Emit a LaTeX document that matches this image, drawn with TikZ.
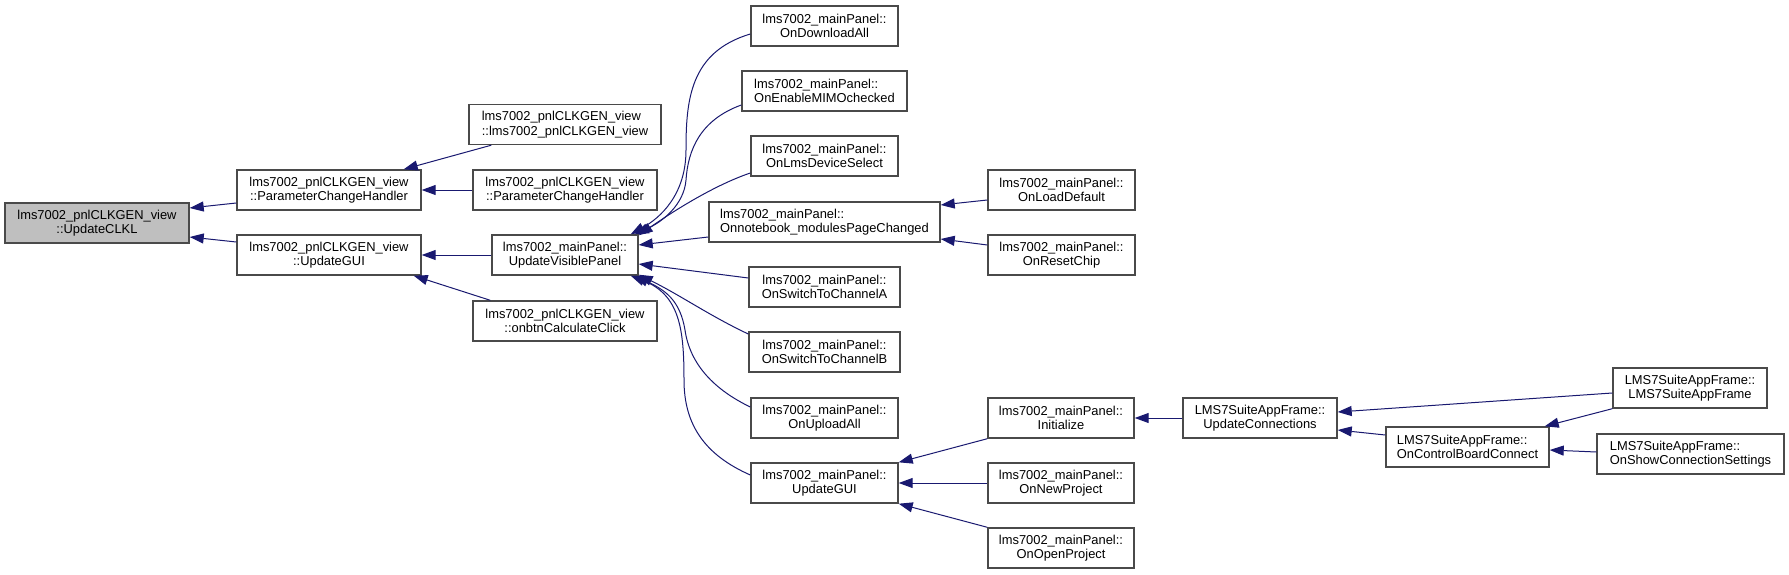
\documentclass[tikz,border=0pt]{standalone}
\usepackage{fontspec}
\setmainfont{Liberation Sans}
\usetikzlibrary{arrows.meta,calc}
\definecolor{edgec}{HTML}{191970}
\definecolor{boxc}{HTML}{4A4A4A}
\definecolor{fillc}{HTML}{BFBFBF}
\begin{document}
\begin{tikzpicture}[x=1pt,y=-1pt,
  box/.style={draw=boxc, line width=1.4pt, fill=white, inner sep=0pt, minimum height=40pt,
    font=\fontsize{12.9}{14.5}\selectfont, align=center},
  edge/.style={draw=edgec, line width=1pt, -{Triangle[length=14pt,width=10pt]}}]
\fill[white] (0,0) rectangle (1789,575);
\useasboundingbox (0,0) rectangle (1789,575);
% level 0
\node[box, fill=fillc, minimum width=184pt] (clkl) at (97,223) {lms7002\_pnlCLKGEN\_view\\::UpdateCLKL};
% level 1
\node[box, minimum width=184pt] (pch1) at (329,190) {lms7002\_pnlCLKGEN\_view\\::ParameterChangeHandler};
\node[box, minimum width=184pt] (ugui1) at (329,255) {lms7002\_pnlCLKGEN\_view\\::UpdateGUI};
% level 2
\node[box, minimum width=192pt, align=left] (ctor) at (565,124.5) {lms7002\_pnlCLKGEN\_view\\::lms7002\_pnlCLKGEN\_view};
\node[box, minimum width=184pt] (pch2) at (565,190) {lms7002\_pnlCLKGEN\_view\\::ParameterChangeHandler};
\node[box, minimum width=146pt] (uvp) at (565,255) {lms7002\_mainPanel::\\UpdateVisiblePanel};
\node[box, minimum width=184pt] (calcclick) at (565,321) {lms7002\_pnlCLKGEN\_view\\::onbtnCalculateClick};
% level 3
\node[box, minimum width=147pt] (dl) at (824.5,26) {lms7002\_mainPanel::\\OnDownloadAll};
\node[box, minimum width=165pt, align=left] (mimo) at (824.5,91) {lms7002\_mainPanel::\\OnEnableMIMOchecked};
\node[box, minimum width=147pt] (lms) at (824.5,156) {lms7002\_mainPanel::\\OnLmsDeviceSelect};
\node[box, minimum width=231pt, align=left] (nb) at (824.5,222) {lms7002\_mainPanel::\\Onnotebook\_modulesPageChanged};
\node[box, minimum width=151pt] (cha) at (824.5,287) {lms7002\_mainPanel::\\OnSwitchToChannelA};
\node[box, minimum width=151pt] (chb) at (824.5,352) {lms7002\_mainPanel::\\OnSwitchToChannelB};
\node[box, minimum width=147pt] (up) at (824.5,418) {lms7002\_mainPanel::\\OnUploadAll};
\node[box, minimum width=147pt] (ugui2) at (824.5,483) {lms7002\_mainPanel::\\UpdateGUI};
% level 4
\node[box, minimum width=147pt] (ld) at (1061.5,190) {lms7002\_mainPanel::\\OnLoadDefault};
\node[box, minimum width=147pt] (rc) at (1061.5,255) {lms7002\_mainPanel::\\OnResetChip};
\node[box, minimum width=146pt] (init) at (1061,418) {lms7002\_mainPanel::\\Initialize};
\node[box, minimum width=146pt] (np) at (1061,483) {lms7002\_mainPanel::\\OnNewProject};
\node[box, minimum width=146pt] (op) at (1061,548) {lms7002\_mainPanel::\\OnOpenProject};
% level 5+
\node[box, minimum width=154pt] (uc) at (1260,418) {LMS7SuiteAppFrame::\\UpdateConnections};
\node[box, minimum width=163pt, align=left] (cbc) at (1467.5,447) {LMS7SuiteAppFrame::\\OnControlBoardConnect};
\node[box, minimum width=154pt] (fr) at (1690,388) {LMS7SuiteAppFrame::\\LMS7SuiteAppFrame};
\node[box, minimum width=187pt, align=left] (scs) at (1690.5,454) {LMS7SuiteAppFrame::\\OnShowConnectionSettings};
% edges
\draw[edge] ($(pch1.west)+(0,13)$) -- ($(clkl.east)+(0,-15)$);
\draw[edge] ($(ugui1.west)+(0,-13)$) -- ($(clkl.east)+(0,14)$);
\draw[edge] ($(ctor.south west)+(23,0)$) -- ($(pch1.north east)+(-18,0)$);
\draw[edge] (pch2.west) -- (pch1.east);
\draw[edge] (uvp.west) -- (ugui1.east);
\draw[edge] ($(calcclick.north west)+(18,0)$) -- ($(ugui1.south east)+(-8,0)$);
\draw[edge] ($(dl.west)+(0,8)$) .. controls (690,52) and (686,100) .. (686,150)
  .. controls (686,195) and (660,218) .. ($(uvp.north east)+(-8,0)$);
\draw[edge] ($(mimo.west)+(0,14)$) .. controls (700,120) and (688,150) .. (686,180)
  .. controls (684,205) and (662,222) .. ($(uvp.north east)+(-4,0)$);
\draw[edge] ($(lms.west)+(0,17)$) .. controls (715,185) and (675,210) .. ($(uvp.north east)+(0,1)$);
\draw[edge] ($(nb.west)+(0,15)$) -- ($(uvp.east)+(0,-10)$);
\draw[edge] ($(cha.west)+(0,-9)$) -- ($(uvp.east)+(0,9)$);
\draw[edge] ($(chb.west)+(0,-18)$) .. controls (710,316) and (680,295) .. ($(uvp.south east)+(0,-1)$);
\draw[edge] ($(up.west)+(0,-11)$) .. controls (715,390) and (690,365) .. (685,330)
  .. controls (680,300) and (665,290) .. ($(uvp.south east)+(-4,0)$);
\draw[edge] ($(ugui2.west)+(0,-8)$) .. controls (705,455) and (684,425) .. (684,380)
  .. controls (684,330) and (680,295) .. ($(uvp.south east)+(-8,0)$);
\draw[edge] ($(ld.west)+(0,10)$) -- ($(nb.east)+(0,-17)$);
\draw[edge] ($(rc.west)+(0,-10)$) -- ($(nb.east)+(0,17)$);
\draw[edge] (init.south west) -- (ugui2.north east);
\draw[edge] (np.west) -- (ugui2.east);
\draw[edge] (op.north west) -- (ugui2.south east);
\draw[edge] (uc.west) -- (init.east);
\draw[edge] ($(fr.west)+(0,5)$) -- ($(uc.east)+(0,-6)$);
\draw[edge] ($(cbc.west)+(0,-12)$) -- ($(uc.east)+(0,12)$);
\draw[edge] (fr.south west) -- ($(cbc.north east)+(-5,0)$);
\draw[edge] ($(scs.west)+(0,-2)$) -- ($(cbc.east)+(0,3)$);
\end{tikzpicture}
\end{document}
